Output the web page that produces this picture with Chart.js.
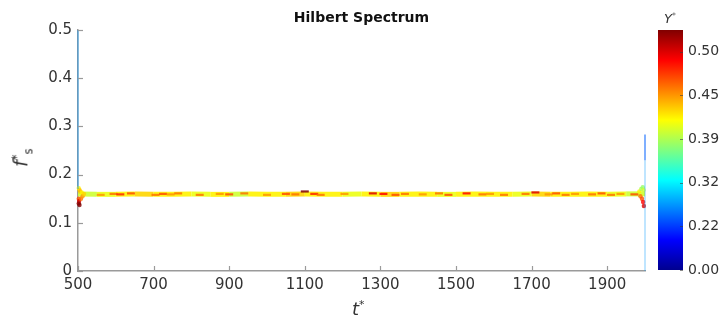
<!DOCTYPE html>
<html>
<head>
<meta charset="utf-8">
<script src="https://cdn.jsdelivr.net/npm/chart.js@4.4.0/dist/chart.umd.min.js"></script>
<style>
  html, body { margin: 0; padding: 0; background: #fff; }
  #wrap { position: relative; width: 719px; height: 323px; font-family: "DejaVu Sans", sans-serif; color: #333; }
  #main { position: absolute; left: 0; top: 0; }
  #cbar { position: absolute; left: 640px; top: 0; }
  .lbl { position: absolute; white-space: nowrap; line-height: 1; }
  #title { left: 0; width: 723px; top: 10px; text-align: center; font-weight: bold; font-size: 14px; color: #111; }
  #xlab { left: 352px; top: 300px; font-size: 18px; font-style: italic; }
  #ylab { left: 14px; top: 146px; font-size: 19px; transform: rotate(-90deg); transform-origin: center; }
  #cblab { left: 664px; top: 12px; font-size: 13px; font-style: italic; }
  sup, sub { font-size: 60%; font-style: normal; }
</style>
</head>
<body>
<div id="wrap">
  <canvas id="main" width="719" height="323"></canvas>
  <canvas id="cbar" width="79" height="323"></canvas>
  <div class="lbl" id="title">Hilbert Spectrum</div>
  <div class="lbl" id="xlab">t<sup>*</sup></div>
  <div class="lbl" id="ylab"><i>f</i><sup>*</sup><sub>s</sub></div>
  <div class="lbl" id="cblab">Y<sup>*</sup></div>
</div>
<script>
// ── Data ────────────────────────────────────────────────────────────────────

const xTicks = [500, 700, 900, 1100, 1300, 1500, 1700, 1900];
const yTicks = [0, 0.1, 0.2, 0.3, 0.4, 0.5];
const cbTicks = [0.00, 0.22, 0.32, 0.39, 0.45, 0.50];   // evenly spaced on the bar

// main ridge of the spectrum
const bandT = [500, 550, 600, 650, 700, 750, 800, 850, 900, 950, 1000, 1050, 1100, 1150, 1200, 1250,
               1300, 1350, 1400, 1450, 1500, 1550, 1600, 1650, 1700, 1750, 1800, 1850, 1900, 1950, 2000];
const bandF = [0.160, 0.159, 0.159, 0.160, 0.159, 0.159, 0.160, 0.159, 0.159, 0.160, 0.159, 0.159, 0.160, 0.159, 0.159, 0.160,
               0.159, 0.159, 0.160, 0.159, 0.159, 0.160, 0.159, 0.159, 0.160, 0.159, 0.159, 0.160, 0.159, 0.160, 0.160];
const bandY = [0.40, 0.41, 0.42, 0.43, 0.42, 0.42, 0.41, 0.42, 0.40, 0.42, 0.42, 0.43, 0.42, 0.42, 0.41, 0.42,
               0.43, 0.42, 0.42, 0.41, 0.42, 0.42, 0.42, 0.41, 0.43, 0.42, 0.42, 0.42, 0.41, 0.40, 0.38];

// orange / red streaks along the ridge
const streakT = [560, 594, 612, 640, 705, 725, 745, 765, 822, 875, 900, 940, 1000, 1050, 1075, 1100, 1125, 1142,
                 1205, 1280, 1308, 1340, 1365, 1412, 1455, 1480, 1528, 1570, 1590, 1627, 1684, 1710, 1745, 1765,
                 1790, 1815, 1860, 1885, 1910, 1935, 1972];
const streakF = [0.158, 0.160, 0.159, 0.161, 0.158, 0.160, 0.159, 0.161, 0.158, 0.160, 0.159, 0.161, 0.158, 0.160, 0.159, 0.165, 0.160, 0.158,
                 0.160, 0.161, 0.160, 0.158, 0.160, 0.159, 0.161, 0.158, 0.161, 0.159, 0.160, 0.158, 0.160, 0.163, 0.159, 0.161,
                 0.158, 0.160, 0.159, 0.161, 0.158, 0.160, 0.159];
const streakY = [0.45, 0.46, 0.48, 0.47, 0.46, 0.47, 0.45, 0.46, 0.46, 0.45, 0.47, 0.46, 0.45, 0.47, 0.46, 0.53, 0.48, 0.46,
                 0.45, 0.50, 0.49, 0.47, 0.46, 0.45, 0.46, 0.47, 0.49, 0.46, 0.45, 0.46, 0.46, 0.50, 0.45, 0.47,
                 0.46, 0.45, 0.46, 0.47, 0.46, 0.45, 0.47];

// spread of points at both ends
const fanT = [502, 504, 506, 502, 503, 502, 504, 508, 510, 512, 516,
              1985, 1988, 1990, 1992, 1994, 1995, 1996, 1997];
const fanF = [0.172, 0.168, 0.165, 0.150, 0.145, 0.140, 0.137, 0.150, 0.163, 0.155, 0.160,
              0.165, 0.155, 0.170, 0.150, 0.174, 0.143, 0.168, 0.135];
const fanY = [0.42, 0.43, 0.44, 0.47, 0.50, 0.52, 0.53, 0.46, 0.42, 0.45, 0.43,
              0.42, 0.46, 0.39, 0.47, 0.38, 0.49, 0.40, 0.50];

// vertical edge artefacts
const leftEdgeT = [500, 500];
const leftEdgeF = [0.17, 0.50];
const leftEdgeY = 0.27;
const rightEdgeT = [2000, 2000, 2000];
const rightEdgeF = [0, 0.23, 0.283];
const rightEdgeY = [0.27, 0.24];

// ── Colour map (jet, on the colorbar's index scale) ─────────────────────────

const CB_TOP = 5.5;
const jetStops = [[0, [0, 0, 143]], [0.125, [0, 0, 255]], [0.375, [0, 255, 255]],
                  [0.625, [255, 255, 0]], [0.875, [255, 0, 0]], [1, [128, 0, 0]]];

function yToIndex(v) {
  for (let i = 1; i < cbTicks.length; i++) {
    if (v <= cbTicks[i] || i === cbTicks.length - 1) {
      return (i - 1) + (v - cbTicks[i - 1]) / (cbTicks[i] - cbTicks[i - 1]);
    }
  }
}

function jet(p, alpha = 1) {
  p = Math.max(0, Math.min(1, p));
  for (let i = 1; i < jetStops.length; i++) {
    const [p0, c0] = jetStops[i - 1], [p1, c1] = jetStops[i];
    if (p <= p1) {
      const k = (p - p0) / (p1 - p0);
      const c = c0.map((v, j) => Math.round(v + (c1[j] - v) * k));
      return `rgba(${c[0]},${c[1]},${c[2]},${alpha})`;
    }
  }
}

const colorOf = (v, a) => jet(yToIndex(v) / CB_TOP, a);
const pts = (ts, fs) => ts.map((t, i) => ({ x: t, y: fs[i] }));

// ── Inner tick marks ────────────────────────────────────────────────────────

const innerTicks = {
  id: "innerTicks",
  afterDraw(chart) {
    const { ctx, scales: { x, y } } = chart;
    ctx.save();
    ctx.strokeStyle = "#9a9a9a";
    ctx.lineWidth = 1.2;
    x.ticks.forEach(t => {
      const px = Math.round(x.getPixelForValue(t.value)) + 0.5;
      ctx.beginPath(); ctx.moveTo(px, x.top); ctx.lineTo(px, x.top - 5); ctx.stroke();
    });
    y.ticks.forEach(t => {
      const py = Math.round(y.getPixelForValue(t.value)) + 0.5;
      ctx.beginPath(); ctx.moveTo(y.right, py); ctx.lineTo(y.right + 5, py); ctx.stroke();
    });
    ctx.restore();
  }
};

// ── Main chart ──────────────────────────────────────────────────────────────
// lower "order" is painted on top

new Chart(document.getElementById("main"), {
  type: "scatter",
  data: {
    datasets: [
      {
        type: "line", order: 5, data: pts(bandT, bandF), showLine: true, pointRadius: 0, borderWidth: 5,
        borderColor: colorOf(0.42, 0.9),
        segment: { borderColor: c => colorOf(bandY[c.p0DataIndex], 0.9) },
        clip: false
      },
      {
        order: 4, data: pts(streakT, streakF), pointStyle: "line", pointRadius: 4, borderWidth: 2.2,
        pointBorderColor: streakY.map(v => colorOf(v, 0.85)), clip: false
      },
      {
        order: 3, data: pts(fanT, fanF), pointRadius: 2.2, borderWidth: 0,
        pointBackgroundColor: fanY.map(v => colorOf(v, 0.8)), clip: false
      },
      {
        type: "line", order: 2, data: pts(leftEdgeT, leftEdgeF), pointRadius: 0, borderWidth: 2,
        borderColor: colorOf(leftEdgeY, 0.35), clip: false
      },
      {
        type: "line", order: 1, data: pts(rightEdgeT, rightEdgeF), pointRadius: 0, borderWidth: 2,
        borderColor: colorOf(rightEdgeY[0], 0.25),
        segment: { borderColor: c => colorOf(rightEdgeY[c.p0DataIndex], c.p0DataIndex ? 0.5 : 0.25) },
        clip: false
      }
    ]
  },
  options: {
    responsive: false,
    animation: false,
    layout: { padding: { left: 0, right: 74, top: 30, bottom: 0 } },
    plugins: { legend: { display: false }, tooltip: { enabled: false } },
    scales: {
      x: {
        type: "linear", min: 500, max: 2000,
        afterBuildTicks: s => { s.ticks = xTicks.map(v => ({ value: v })); },
        afterFit: s => { s.height = 52; },
        grid: { display: false, drawTicks: false },
        border: { color: "#9a9a9a", width: 1.5 },
        ticks: {
          color: "#333", font: { family: "DejaVu Sans", size: 15 }, padding: 5, maxRotation: 0, autoSkip: false,
          callback: v => String(v)
        }
      },
      y: {
        type: "linear", min: 0, max: 0.5,
        afterBuildTicks: s => { s.ticks = yTicks.map(v => ({ value: v })); },
        afterFit: s => { s.width = 78; },
        grid: { display: false, drawTicks: false },
        border: { color: "#9a9a9a", width: 1.5 },
        ticks: {
          color: "#333", font: { family: "DejaVu Sans", size: 15 }, padding: 6,
          callback: v => v === 0 ? "0" : v.toFixed(1)
        }
      }
    }
  },
  plugins: [innerTicks]
});

// ── Colorbar ────────────────────────────────────────────────────────────────

const cbarTicks = {
  id: "cbarTicks",
  afterDraw(chart) {
    const { ctx, chartArea: a, scales: { y } } = chart;
    ctx.save();
    ctx.strokeStyle = "rgba(60,60,60,0.6)";
    ctx.lineWidth = 1;
    y.ticks.forEach(t => {
      const py = Math.round(y.getPixelForValue(t.value)) + 0.5;
      ctx.beginPath(); ctx.moveTo(a.right - 3, py); ctx.lineTo(a.right, py); ctx.stroke();
    });
    ctx.restore();
  }
};

new Chart(document.getElementById("cbar"), {
  type: "bar",
  data: {
    labels: [""],
    datasets: [{
      data: [[0, CB_TOP]],
      barPercentage: 1, categoryPercentage: 1, borderWidth: 0,
      backgroundColor: c => {
        const a = c.chart.chartArea;
        if (!a) return "#800000";
        const g = c.chart.ctx.createLinearGradient(0, a.bottom, 0, a.top);
        jetStops.forEach(([p, col]) => g.addColorStop(p, `rgb(${col.join(",")})`));
        return g;
      }
    }]
  },
  options: {
    responsive: false,
    animation: false,
    layout: { padding: { left: 18, right: 0, top: 30, bottom: 53 } },
    plugins: { legend: { display: false }, tooltip: { enabled: false } },
    scales: {
      x: { display: false },
      y: {
        position: "right", min: 0, max: CB_TOP,
        afterBuildTicks: s => { s.ticks = cbTicks.map((v, i) => ({ value: i })); },
        afterFit: s => { s.width = 36; },
        grid: { display: false, drawTicks: false },
        border: { display: false },
        ticks: {
          color: "#333", font: { family: "DejaVu Sans", size: 14 }, padding: 5,
          callback: (v, i) => cbTicks[i].toFixed(2)
        }
      }
    }
  },
  plugins: [cbarTicks]
});
</script>
</body>
</html>
